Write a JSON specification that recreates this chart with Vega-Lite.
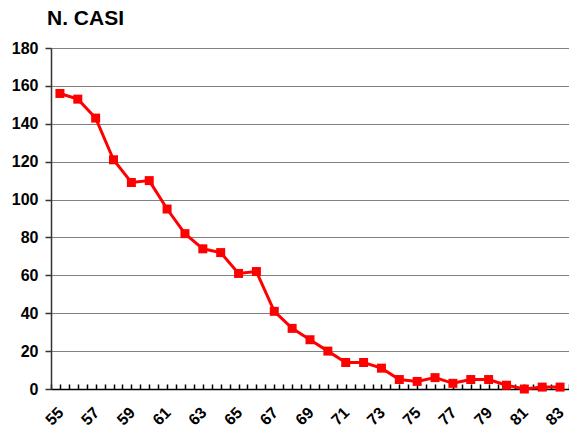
{
  "$schema": "https://vega.github.io/schema/vega-lite/v6.json",
  "width": 518,
  "height": 341,
  "autosize": {"type": "none"},
  "padding": {"left": 51, "top": 48, "right": 0, "bottom": 39},
  "background": "white",
  "title": {
    "text": "N. CASI",
    "anchor": "start",
    "frame": "group",
    "font": "Liberation Sans",
    "fontSize": 21,
    "fontWeight": "bold",
    "color": "black",
    "dx": -4,
    "offset": 11
  },
  "config": {
    "view": {"stroke": null},
    "font": "Liberation Sans"
  },
  "data": {
    "values": [
      {"anno": 55, "casi": 156},
      {"anno": 56, "casi": 153},
      {"anno": 57, "casi": 143},
      {"anno": 58, "casi": 121},
      {"anno": 59, "casi": 109},
      {"anno": 60, "casi": 110},
      {"anno": 61, "casi": 95},
      {"anno": 62, "casi": 82},
      {"anno": 63, "casi": 74},
      {"anno": 64, "casi": 72},
      {"anno": 65, "casi": 61},
      {"anno": 66, "casi": 62},
      {"anno": 67, "casi": 41},
      {"anno": 68, "casi": 32},
      {"anno": 69, "casi": 26},
      {"anno": 70, "casi": 20},
      {"anno": 71, "casi": 14},
      {"anno": 72, "casi": 14},
      {"anno": 73, "casi": 11},
      {"anno": 74, "casi": 5},
      {"anno": 75, "casi": 4},
      {"anno": 76, "casi": 6},
      {"anno": 77, "casi": 3},
      {"anno": 78, "casi": 5},
      {"anno": 79, "casi": 5},
      {"anno": 80, "casi": 2},
      {"anno": 81, "casi": 0},
      {"anno": 82, "casi": 1},
      {"anno": 83, "casi": 1}
    ]
  },
  "encoding": {
    "x": {
      "field": "anno",
      "type": "quantitative",
      "scale": {"domain": [54.5, 83.5], "nice": false, "zero": false},
      "axis": {
        "title": null,
        "grid": false,
        "values": [54.5, 55, 55.5, 56, 56.5, 57, 57.5, 58, 58.5, 59, 59.5, 60, 60.5, 61, 61.5, 62, 62.5, 63, 63.5, 64, 64.5, 65, 65.5, 66, 66.5, 67, 67.5, 68, 68.5, 69, 69.5, 70, 70.5, 71, 71.5, 72, 72.5, 73, 73.5, 74, 74.5, 75, 75.5, 76, 76.5, 77, 77.5, 78, 78.5, 79, 79.5, 80, 80.5, 81, 81.5, 82, 82.5, 83, 83.5],
        "domainColor": "black",
        "domainWidth": 1.5,
        "tickColor": "black",
        "tickWidth": 1.5,
        "tickSize": -5,
        "labelAngle": -45,
        "labelFont": "Liberation Sans",
        "labelFontSize": 16,
        "labelFontWeight": "bold",
        "labelColor": "black",
        "labelPadding": 20,
        "labelOffset": -5,
        "labelOverlap": false,
        "labelBound": false,
        "labelExpr": "datum.value % 2 == 1 ? format(datum.value, 'd') : ''"
      }
    },
    "y": {
      "field": "casi",
      "type": "quantitative",
      "scale": {"domain": [0, 180], "nice": false},
      "axis": {
        "title": null,
        "values": [0, 20, 40, 60, 80, 100, 120, 140, 160, 180],
        "grid": true,
        "gridColor": "#808080",
        "gridWidth": 1,
        "domainColor": "#333333",
        "domainWidth": 1.5,
        "tickColor": "#333333",
        "tickWidth": 1.5,
        "tickSize": 6,
        "labelFont": "Liberation Sans",
        "labelFontSize": 16,
        "labelFontWeight": "bold",
        "labelColor": "black",
        "labelPadding": 7
      }
    }
  },
  "layer": [
    {"mark": {"type": "line", "color": "#FF0000", "strokeWidth": 3}},
    {"mark": {"type": "square", "color": "#FF0000", "opacity": 1, "filled": true, "size": 81}}
  ]
}
